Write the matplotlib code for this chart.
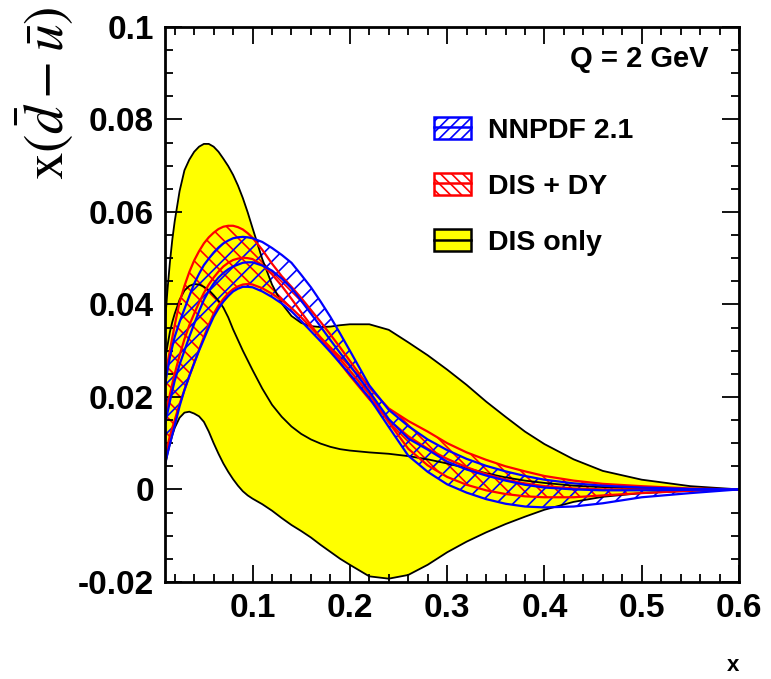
import matplotlib
matplotlib.use("Agg")
import matplotlib.pyplot as plt
from matplotlib.patches import Patch
from matplotlib.lines import Line2D
from matplotlib.ticker import MultipleLocator

plt.rcParams["font.family"] = ["Liberation Sans", "DejaVu Sans"]
plt.rcParams["mathtext.fontset"] = "stix"
plt.rcParams["hatch.linewidth"] = 1.2

# x grid shared by all curves
x = [0.01, 0.0125, 0.015, 0.0175, 0.02, 0.025, 0.03, 0.035, 0.04, 0.045,
     0.05, 0.055, 0.06, 0.065, 0.07, 0.075, 0.08, 0.085, 0.09, 0.095, 0.10,
     0.11, 0.12, 0.13, 0.14, 0.15, 0.16, 0.17, 0.18, 0.19, 0.20,
     0.22, 0.24, 0.26, 0.28, 0.30, 0.32, 0.34, 0.36, 0.38, 0.40, 0.43, 0.46,
     0.50, 0.55, 0.60]

# DIS only (yellow band)
dis_hi = [0.036, 0.043, 0.049, 0.054, 0.058, 0.0645, 0.0690, 0.0713, 0.0730,
          0.0741, 0.0747, 0.0747, 0.0741, 0.0730, 0.0715, 0.0699, 0.0680,
          0.0657, 0.0630, 0.0599, 0.0565,
          0.0498, 0.0443, 0.0402, 0.0375, 0.0360, 0.0353, 0.0351, 0.0352,
          0.0355, 0.0357,
          0.0357, 0.0345, 0.0318, 0.0290, 0.0259, 0.0226, 0.0190, 0.0157,
          0.0125, 0.0098, 0.0065, 0.0040, 0.0021, 0.0007, 0.0]
dis_lo = [0.0050, 0.0076, 0.0098, 0.0117, 0.0133, 0.0155, 0.0166, 0.0168,
          0.0164, 0.0158, 0.0146, 0.0125, 0.0100, 0.0077, 0.0056, 0.0038,
          0.0022, 0.0008, -0.0004, -0.0013, -0.0020,
          -0.0032, -0.0046, -0.0062, -0.0077, -0.0090, -0.0104, -0.0120,
          -0.0135, -0.0150, -0.0163,
          -0.0188, -0.0193, -0.0185, -0.0163, -0.0136, -0.0113, -0.0093,
          -0.0075, -0.0059, -0.0044, -0.0027, -0.0016, -0.0008, -0.0003, 0.0]
dis_c = [0.028, 0.031, 0.034, 0.0362, 0.038, 0.041, 0.043, 0.0440, 0.0444,
         0.0443, 0.0438, 0.0431, 0.0420, 0.0408, 0.0393, 0.0372, 0.0346,
         0.0323, 0.0300, 0.0279, 0.0258,
         0.0218, 0.0183, 0.0157, 0.0136, 0.0120, 0.0108, 0.0099, 0.0092,
         0.0087, 0.0084,
         0.0080, 0.0077, 0.0072, 0.0065, 0.0056, 0.0046, 0.0035, 0.0026,
         0.0019, 0.0014, 0.0008, 0.0005, 0.0002, 0.0001, 0.0]

# DIS + DY (red band)
dy_hi = [0.0245, 0.0272, 0.0300, 0.0328, 0.0355, 0.0405, 0.0440, 0.0470,
         0.0495, 0.0515, 0.0532, 0.0545, 0.0555, 0.0563, 0.0568, 0.0570,
         0.0570, 0.0567, 0.0562, 0.0554, 0.0544,
         0.0518, 0.0488, 0.0461, 0.0438, 0.0414, 0.0388, 0.0362, 0.0335,
         0.0307, 0.0278,
         0.0220, 0.0175, 0.0148, 0.0125, 0.0100, 0.0080, 0.0064, 0.0050,
         0.0039, 0.0029, 0.0019, 0.0012, 0.0007, 0.0002, 0.0]
dy_lo = [0.0070, 0.0093, 0.0115, 0.0133, 0.0150, 0.0185, 0.0215, 0.0245,
         0.0273, 0.0302, 0.0330, 0.0356, 0.0380, 0.0398, 0.0412, 0.0424,
         0.0433, 0.0439, 0.0443, 0.0444, 0.0443,
         0.0435, 0.0423, 0.0409, 0.0392, 0.0372, 0.0350, 0.0328, 0.0305,
         0.0281, 0.0257,
         0.0206, 0.0145, 0.0088, 0.0052, 0.0027, 0.0010, -0.0002, -0.0010,
         -0.0015, -0.0017, -0.0017, -0.0013, -0.0008, -0.0003, 0.0]
dy_c = [0.0155, 0.0180, 0.0205, 0.0228, 0.0250, 0.0290, 0.0325, 0.0355,
        0.0380, 0.0404, 0.0425, 0.0443, 0.0458, 0.0471, 0.0482, 0.0490,
        0.0496, 0.0499, 0.0501, 0.0500, 0.0498,
        0.0485, 0.0465, 0.0440, 0.0412, 0.0383, 0.0355, 0.0327, 0.0300,
        0.0273, 0.0246,
        0.0195, 0.0150, 0.0115, 0.0088, 0.0066, 0.0048, 0.0033, 0.0021,
        0.0013, 0.0007, 0.0002, 0.0, 0.0, 0.0, 0.0]

# NNPDF 2.1 (blue band)
nn_hi = [0.0225, 0.0256, 0.0285, 0.0308, 0.0330, 0.0362, 0.0390, 0.0418,
         0.0445, 0.0466, 0.0485, 0.0499, 0.0512, 0.0523, 0.0532, 0.0538,
         0.0543, 0.0545, 0.0546, 0.0545, 0.0543,
         0.0535, 0.0522, 0.0507, 0.0490, 0.0464, 0.0437, 0.0406, 0.0373,
         0.0337, 0.0300,
         0.0225, 0.0172, 0.0137, 0.0108, 0.0085, 0.0066, 0.0051, 0.0039,
         0.0029, 0.0021, 0.0013, 0.0008, 0.0004, 0.0001, 0.0]
nn_lo = [0.0055, 0.0077, 0.0098, 0.0118, 0.0138, 0.0180, 0.0215, 0.0245,
         0.0273, 0.0300, 0.0325, 0.0350, 0.0373, 0.0391, 0.0406, 0.0418,
         0.0428, 0.0434, 0.0438, 0.0438, 0.0437,
         0.0428, 0.0416, 0.0402, 0.0385, 0.0364, 0.0342, 0.0320, 0.0297,
         0.0273, 0.0249,
         0.0198, 0.0135, 0.0073, 0.0038, 0.0011, -0.0007, -0.0021, -0.0031,
         -0.0037, -0.0039, -0.0037, -0.0030, -0.0017, -0.0008, 0.0]
nn_c = [0.0140, 0.0165, 0.0190, 0.0213, 0.0235, 0.0270, 0.0300, 0.0330,
        0.0358, 0.0385, 0.0410, 0.0429, 0.0445, 0.0458, 0.0468, 0.0476,
        0.0482, 0.0486, 0.0490, 0.0491, 0.0491,
        0.0484, 0.0473, 0.0456, 0.0435, 0.0408, 0.0380, 0.0352, 0.0323,
        0.0295, 0.0268,
        0.0212, 0.0152, 0.0110, 0.0086, 0.0060, 0.0043, 0.0030, 0.0019,
        0.0010, 0.0004, 0.0, -0.0002, -0.0002, -0.0001, 0.0]

labels = ["NNPDF 2.1", "DIS + DY", "DIS only"]
x_ticks = [0.1, 0.2, 0.3, 0.4, 0.5, 0.6]
x_ticklabels = ["0.1", "0.2", "0.3", "0.4", "0.5", "0.6"]
y_ticks = [-0.02, 0.0, 0.02, 0.04, 0.06, 0.08, 0.1]
y_ticklabels = ["-0.02", "0", "0.02", "0.04", "0.06", "0.08", "0.1"]

fig = plt.figure(figsize=(7.71, 6.79), dpi=100)
ax = fig.add_axes([0.214, 0.143, 0.7445, 0.8174])

# DIS only
ax.fill_between(x, dis_lo, dis_hi, facecolor="#ffff00", edgecolor="none")
for curve in (dis_hi, dis_lo, dis_c):
    ax.plot(x, curve, color="black", lw=1.3, solid_joinstyle="round")

# DIS + DY and NNPDF hatched bands
ax.fill_between(x, dy_lo, dy_hi, facecolor="none", edgecolor="red",
                hatch="\\\\", lw=0)
ax.fill_between(x, nn_lo, nn_hi, facecolor="none", edgecolor="blue",
                hatch="//", lw=0)
for curve in (dy_hi, dy_lo, dy_c):
    ax.plot(x, curve, color="red", lw=1.6, solid_joinstyle="round")
for curve in (nn_hi, nn_lo, nn_c):
    ax.plot(x, curve, color="blue", lw=1.6, solid_joinstyle="round")

ax.set_xlim(0.01, 0.6)
ax.set_ylim(-0.02, 0.1)
ax.set_xticks(x_ticks, x_ticklabels, fontweight="bold", fontsize=24)
ax.set_yticks(y_ticks, y_ticklabels, fontweight="bold", fontsize=24)
ax.xaxis.set_minor_locator(MultipleLocator(0.02))
ax.yaxis.set_minor_locator(MultipleLocator(0.005))
ax.tick_params(which="both", direction="in", top=True, right=True, width=1.3)
ax.tick_params(which="major", length=12, pad=8)
ax.tick_params(which="minor", length=6)
for sp in ax.spines.values():
    sp.set_linewidth(2)

handles = [
    (Patch(facecolor="white", edgecolor="blue", hatch="///", lw=1.8),
     Line2D([], [], color="blue", lw=1.8)),
    (Patch(facecolor="white", edgecolor="red", hatch="\\\\\\", lw=1.8),
     Line2D([], [], color="red", lw=1.8)),
    (Patch(facecolor="#ffff00", edgecolor="black", lw=1.8),
     Line2D([], [], color="black", lw=1.8)),
]
ax.legend(handles, labels, loc="upper left", bbox_to_anchor=(0.4686, 0.838),
          frameon=False, prop={"size": 20.5, "weight": "bold"},
          handlelength=1.3, handleheight=0.81, labelspacing=1.03,
          handletextpad=0.6, borderpad=0, borderaxespad=0)

ax.text(0.946, 0.943, "Q = 2 GeV", transform=ax.transAxes, ha="right",
        va="center", fontsize=21, fontweight="bold")
fig.text(0.951, 0.0206, "x", ha="center", va="center", fontsize=16,
         fontweight="bold")
fig.text(0.058, 0.99, r"$\mathrm{x}(\bar{d}-\bar{u})$", rotation=90,
         ha="center", va="top", fontsize=40)

fig.savefig("out.png", dpi=100)
